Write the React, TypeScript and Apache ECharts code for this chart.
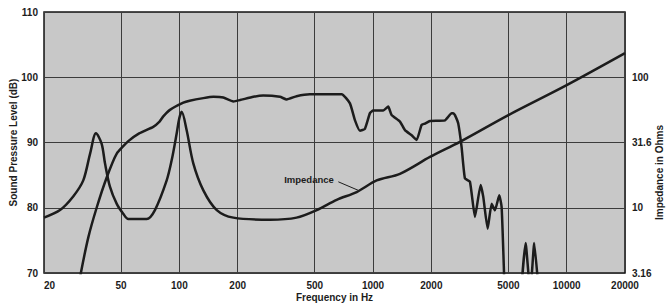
import React, { useEffect, useRef } from 'react';
import * as echarts from 'echarts';

// Frequency axis tick labels (Hz)
const xTicks = [20, 50, 100, 200, 500, 1000, 2000, 5000, 10000, 20000];

// Sound pressure level response (Hz, dB)
const splFreq = [30.3, 31.0, 33.9, 37.4, 42.1, 47.5, 54.5, 62, 73.3, 79, 82.6, 89.4, 104.8, 113, 133, 150, 168.6, 190, 205.6, 240.8, 271, 330.6, 358, 403, 472, 599, 689, 760, 807, 856, 908, 964, 1002, 1129, 1198, 1247, 1377, 1461, 1583, 1679, 1782, 1854, 1968, 2351, 2546, 2595, 2648, 2754, 2866, 2982, 3164, 3359, 3594, 3707, 3906, 4096, 4260, 4484, 4613, 4742, 4860, 5700, 5850, 6136, 6450, 6520, 6796, 7130];
const splDb = [68, 70, 75.5, 80, 84.6, 88.3, 90.2, 91.4, 92.4, 93.2, 94.0, 95.0, 96.1, 96.4, 96.8, 97.0, 96.9, 96.3, 96.5, 97.0, 97.2, 97.0, 96.6, 97.1, 97.4, 97.4, 97.4, 96.0, 93.4, 91.8, 92.1, 94.5, 94.9, 94.9, 95.5, 94.2, 93.2, 91.9, 91.1, 90.4, 92.7, 92.9, 93.3, 93.4, 94.5, 94.5, 94.2, 92.9, 89.3, 84.5, 84.0, 78.6, 83.5, 81.7, 76.8, 80.6, 79.6, 81.9, 80.1, 70.4, 60, 60, 68, 74.6, 68, 68, 74.6, 68];

// Impedance (Hz, Ohms)
const impFreq = [20, 24.2, 28.3, 31.9, 34.6, 37.1, 39.7, 41.3, 43.8, 47.5, 51.3, 54.5, 67.8, 74.8, 86, 91.3, 96.9, 99.9, 102.8, 109, 118, 133, 156, 190, 294, 403, 512, 649, 823, 1044, 1377, 1968, 2810, 5000, 10000, 20000];
const impOhms = [8.4, 9.6, 12.2, 16.2, 26.0, 37.2, 30.9, 21.9, 14.5, 10.7, 9.0, 8.2, 8.2, 9.6, 16.2, 23.2, 37.2, 48.4, 54.3, 39.4, 21.9, 13.6, 9.6, 8.4, 8.1, 8.4, 9.6, 11.5, 13.2, 16.2, 18.2, 24.5, 32.0, 51.3, 87.0, 153];

// Annotation anchors (Hz, Ohms)
const labelAt = [467, 16.5];
const leaderFrom = [662, 15.8];
const leaderTo = [839, 13.6];

const FONT = '"Liberation Sans", Arial, sans-serif';
const INK = '#1c1c1c';

export default function App() {
  const ref = useRef<HTMLDivElement>(null);
  useEffect(() => {
    if (!ref.current) return;
    const chart = echarts.init(ref.current, null, { renderer: 'svg' });
    const labelStyle = { fontFamily: FONT, fontSize: 10, fontWeight: 'bold' as const, color: INK };
    chart.setOption({
      animation: false,
      grid: {
        left: 44, right: 41, top: 12, bottom: 31,
        outerBoundsMode: 'none', containLabel: false,
        show: true, backgroundColor: '#c8c8c8', borderColor: '#151515', borderWidth: 1.5,
      },
      xAxis: {
        type: 'log', logBase: 10, min: 20, max: 20000,
        name: 'Frequency in Hz', nameLocation: 'middle', nameGap: 19, nameMoveOverlap: false,
        nameTextStyle: { ...labelStyle },
        axisLine: { show: false },
        axisTick: { show: false, customValues: xTicks },
        axisLabel: {
          ...labelStyle, margin: 7, customValues: xTicks, alignMinLabel: 'left',
          formatter: (v: number) => String(Math.round(v)),
        },
        splitLine: { show: true, lineStyle: { color: '#3c3c3c', width: 1 } },
      },
      yAxis: [
        {
          type: 'value', min: 70, max: 110, interval: 10,
          name: 'Sound Pressure Level (dB)', nameLocation: 'middle', nameGap: 26, nameMoveOverlap: false,
          nameTextStyle: { ...labelStyle },
          axisLine: { show: false }, axisTick: { show: false },
          axisLabel: { ...labelStyle, margin: 6 },
          splitLine: { show: true, lineStyle: { color: '#3c3c3c', width: 1 } },
        },
        {
          type: 'log', logBase: Math.sqrt(10), min: Math.sqrt(10), max: 100 * Math.sqrt(10),
          position: 'right',
          name: 'Impedance in Ohms', nameLocation: 'middle', nameGap: 29, nameMoveOverlap: false,
          nameTextStyle: { ...labelStyle, padding: [0, 60, 0, 0] },
          axisLine: { show: false }, axisTick: { show: false },
          axisLabel: {
            ...labelStyle, margin: 7, showMaxLabel: false,
            formatter: (v: number) => String(Number(v.toPrecision(3))),
          },
          splitLine: { show: false },
        },
      ],
      series: [
        {
          name: 'Sound Pressure Level', type: 'line', yAxisIndex: 0,
          data: splFreq.map((f, i) => [f, splDb[i]]),
          showSymbol: false, smooth: 0.15, clip: true,
          lineStyle: { color: INK, width: 2.5 },
        },
        {
          name: 'Impedance', type: 'line', yAxisIndex: 1,
          data: impFreq.map((f, i) => [f, impOhms[i]]),
          showSymbol: false, smooth: 0.3, clip: true,
          lineStyle: { color: INK, width: 2.5 },
          markPoint: {
            silent: true,
            symbol: 'circle', symbolSize: 0,
            label: { show: true, position: 'inside', formatter: 'Impedance', ...labelStyle, fontSize: 9.5 },
            data: [{ coord: labelAt }],
          },
          markLine: {
            silent: true, symbol: ['none', 'none'],
            label: { show: false },
            lineStyle: { color: INK, width: 1, type: 'solid' },
            data: [[{ coord: leaderFrom }, { coord: leaderTo }]],
          },
        },
      ],
    });
    return () => chart.dispose();
  }, []);
  return <div ref={ref} style={{ position: 'fixed', left: 0, top: 0, width: 666, height: 304, background: '#fff' }} />;
}
